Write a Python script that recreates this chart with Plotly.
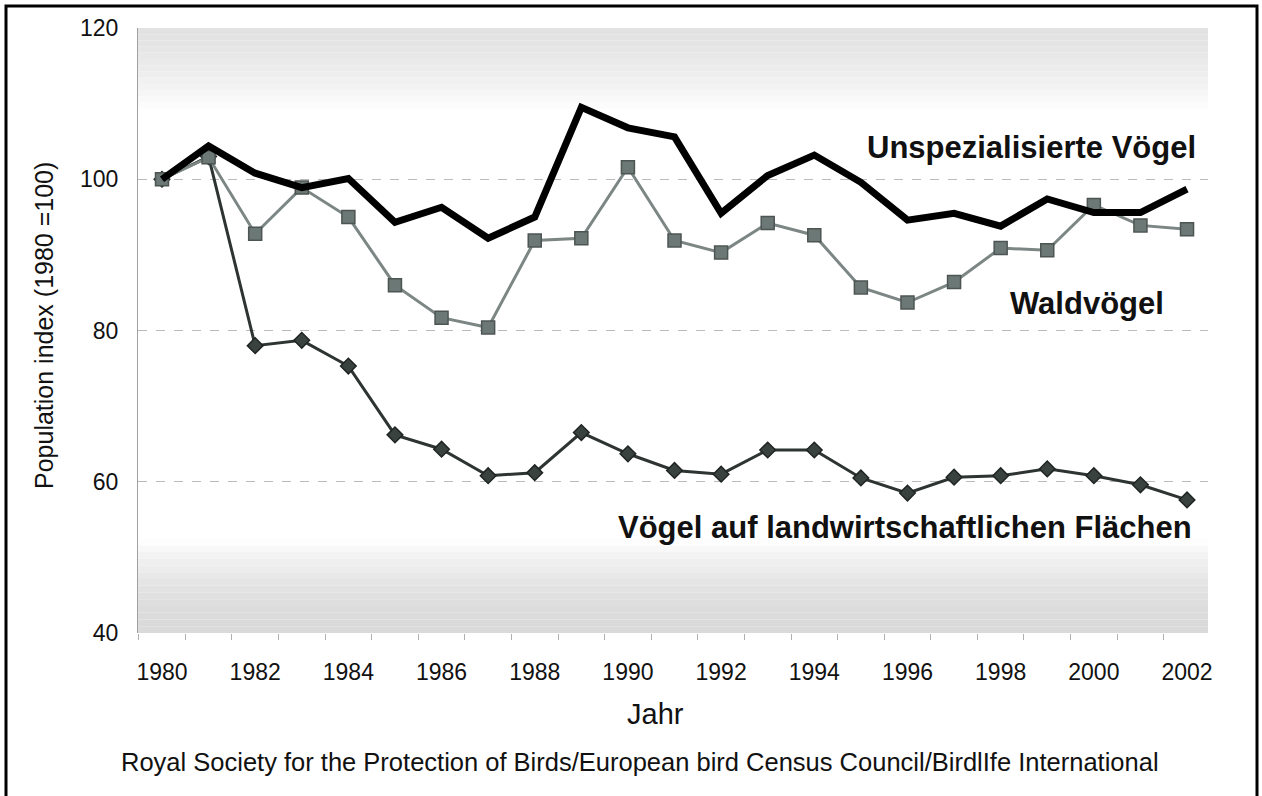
import plotly.graph_objects as go

years = list(range(1980, 2003))
unspezialisiert = [100, 104.4, 100.8, 98.9, 100.1, 94.3, 96.3, 92.2, 95.0, 109.5, 106.8, 105.6,
                   95.5, 100.5, 103.2, 99.6, 94.6, 95.5, 93.8, 97.4, 95.6, 95.6, 98.7]
waldvoegel = [100, 102.9, 92.8, 98.9, 95.0, 86.0, 81.7, 80.4, 91.9, 92.2, 101.6, 91.9,
              90.3, 94.2, 92.6, 85.7, 83.7, 86.4, 90.9, 90.6, 96.6, 93.9, 93.4]
landwirtschaft = [100, 103.0, 78.0, 78.7, 75.3, 66.2, 64.3, 60.8, 61.2, 66.5, 63.7, 61.5,
                  61.0, 64.2, 64.2, 60.5, 58.5, 60.6, 60.8, 61.7, 60.8, 59.6, 57.6]

x_ticks = list(range(1980, 2003, 2))
y_ticks = [40, 60, 80, 100, 120]

label_unsp = "Unspezialisierte Vögel"
label_wald = "Waldvögel"
label_land = "Vögel auf landwirtschaftlichen Flächen"
x_title = "Jahr"
y_title = "Population index (1980 =100)"
caption = "Royal Society for the Protection of Birds/European bird Census Council/BirdlIfe International"

FONT = "Liberation Sans, Arial, sans-serif"

fig = go.Figure()

fig.add_trace(go.Scatter(x=years, y=landwirtschaft, mode="lines+markers",
                         line=dict(color="#2d3431", width=3),
                         marker=dict(symbol="diamond", size=12, color="#3a4240",
                                     line=dict(color="#1f2523", width=1.5)),
                         name=label_land, showlegend=False))
fig.add_trace(go.Scatter(x=years, y=waldvoegel, mode="lines+markers",
                         line=dict(color="#7c8684", width=3),
                         marker=dict(symbol="square", size=13, color="#6c7875",
                                     line=dict(color="#4d5553", width=1.5)),
                         name=label_wald, showlegend=False))
fig.add_trace(go.Scatter(x=years, y=unspezialisiert, mode="lines",
                         line=dict(color="#000000", width=7),
                         name=label_unsp, showlegend=False))

shapes = []
n = 14
# top gradient band (fades downward)
top_hi, top_lo = 120, 108.5
for i in range(n):
    y0 = top_hi - (top_hi - top_lo) * i / n
    y1 = top_hi - (top_hi - top_lo) * (i + 1) / n
    g = int(226 + (255 - 226) * (i / (n - 1)) ** 1.3)
    shapes.append(dict(type="rect", xref="paper", yref="y", x0=0, x1=1, y0=y1, y1=y0,
                       fillcolor=f"rgb({g},{g},{g})", line=dict(width=0), layer="below"))
# bottom gradient band (darker downward)
bot_lo, bot_hi = 40, 52.5
for i in range(n):
    y0 = bot_lo + (bot_hi - bot_lo) * i / n
    y1 = bot_lo + (bot_hi - bot_lo) * (i + 1) / n
    g = int(218 + (253 - 218) * (i / (n - 1)) ** 1.8)
    shapes.append(dict(type="rect", xref="paper", yref="y", x0=0, x1=1, y0=y0, y1=y1,
                       fillcolor=f"rgb({g},{g},{g})", line=dict(width=0), layer="below"))

L, T, W, H = 138, 28, 1070, 605
def px(x): return (x - L) / W
def py(y): return (T + H - y) / H
# outer frame
shapes.append(dict(type="rect", xref="paper", yref="paper",
                   x0=px(6), x1=px(1257), y0=py(830), y1=py(6),
                   line=dict(color="black", width=3), fillcolor="rgba(0,0,0,0)", layer="above"))

annotations = [
    dict(text=f"<b>{label_unsp}</b>", x=px(1198), y=py(147), xref="paper", yref="paper",
         xanchor="right", yanchor="middle", showarrow=False,
         font=dict(family=FONT, size=31, color="#111")),
    dict(text=f"<b>{label_wald}</b>", x=px(1087), y=py(303), xref="paper", yref="paper",
         xanchor="center", yanchor="middle", showarrow=False,
         font=dict(family=FONT, size=31, color="#111")),
    dict(text=f"<b>{label_land}</b>", x=px(1194), y=py(527), xref="paper", yref="paper",
         xanchor="right", yanchor="middle", showarrow=False,
         font=dict(family=FONT, size=31, color="#111")),
    dict(text=x_title, x=px(655), y=py(714), xref="paper", yref="paper",
         xanchor="center", yanchor="middle", showarrow=False,
         font=dict(family=FONT, size=29, color="#111")),
    dict(text=y_title, x=px(44), y=py(326), xref="paper", yref="paper", textangle=-90,
         xanchor="center", yanchor="middle", showarrow=False,
         font=dict(family=FONT, size=25, color="#111")),
    dict(text=caption, x=px(640), y=py(762), xref="paper", yref="paper",
         xanchor="center", yanchor="middle", showarrow=False,
         font=dict(family=FONT, size=25.5, color="#111")),
]

fig.update_layout(
    width=1262, height=796,
    margin=dict(l=L, r=1262 - L - W, t=T, b=796 - T - H),
    paper_bgcolor="white", plot_bgcolor="white",
    shapes=shapes, annotations=annotations,
    font=dict(family=FONT, color="#111"),
)
fig.update_xaxes(range=[1979.485, 2002.45], tickvals=x_ticks, ticks="outside",
                 ticklen=18, tickcolor="rgba(0,0,0,0)",
                 tickfont=dict(size=23, family=FONT, color="#111"),
                 minor=dict(tick0=1980.5, dtick=1, ticks="outside", ticklen=6,
                            tickcolor="#b0b0b0", showgrid=False),
                 showgrid=False, showline=False, zeroline=False)
fig.update_yaxes(range=[40, 120], tickvals=y_ticks, ticks="outside", ticklen=14,
                 tickcolor="rgba(0,0,0,0)",
                 tickfont=dict(size=23, family=FONT, color="#111"),
                 showgrid=True, gridcolor="#bbbbbb", griddash="dash", gridwidth=1,
                 showline=True, linecolor="#a0a0a0", linewidth=1, zeroline=False)

fig.write_html("out.html", config={"displayModeBar": False},
               post_script="document.body.style.margin='0';document.body.style.overflow='hidden';")
